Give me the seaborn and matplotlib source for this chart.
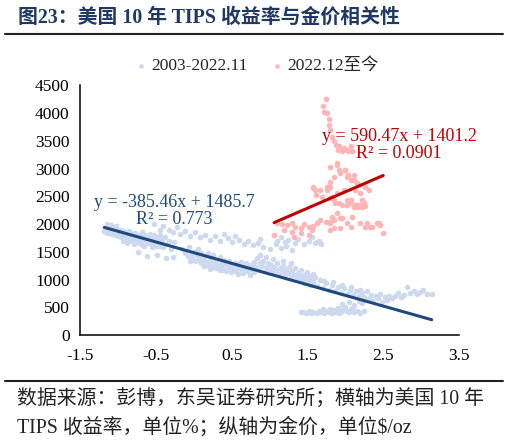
import numpy as np
import pandas as pd
import matplotlib
matplotlib.use('Agg')
import matplotlib.pyplot as plt
import seaborn as sns
from matplotlib.lines import Line2D

# 横轴：美国10年TIPS收益率(%)，纵轴：金价($/oz)，数值为从原图读取的估计
blue_x = [
    -1.18, -1.17, -1.16, -1.15, -1.14, -1.13, -1.12, -1.11, -1.10, -1.09, -1.08, -1.07, -1.06, -1.05,
    -1.04, -1.03, -1.02, -1.01, -1.00, -0.99, -0.98, -0.97, -0.96, -0.95, -0.94, -0.93, -0.92, -0.91,
    -0.90, -0.89, -0.88, -0.87, -0.86, -0.85, -0.84, -0.83, -0.82, -0.81, -0.80, -0.79, -0.78, -0.77,
    -0.76, -0.75, -0.74, -0.73, -0.72, -0.71, -0.70, -0.69, -0.68, -0.67, -0.66, -0.65, -0.64, -0.63,
    -0.62, -0.61, -0.60, -0.59, -0.58, -0.57, -0.56, -0.55, -0.54, -0.53, -0.52, -0.51, -0.50, -0.49,
    -0.48, -0.47, -0.46, -0.45, -0.44, -0.43, -0.42, -0.40, -0.38, -0.36, -0.35, -0.33, -0.30, -0.28,
    -0.26, -1.15, -1.12, -1.07, -1.02, -0.97, -0.93, -0.88, -0.84,
    -0.52, -0.45, -0.40, -0.33, -0.27, -0.22, -0.18, -0.12, -0.05, 0.02, 0.08, 0.15, 0.22, 0.28,
    0.35, 0.40, 0.45, 0.50, 0.55, 0.60, 0.66, 0.72, 0.78, 0.85, 0.92, 1.00, 1.08, 1.15, 1.22, 1.30,
    1.06, 1.10, 1.15, 1.20, 1.25, 1.33, 1.38, 1.45, 1.52, 1.60, 1.65, 1.68, 1.56, 0.88, 1.32, 1.63,
    -0.15, -0.12, -0.10, -0.08, -0.06, -0.04, -0.02, 0.00, 0.02, 0.04, 0.05, 0.07, 0.09, 0.10,
    0.12, 0.14, 0.15, 0.17, 0.19, 0.20, 0.22, 0.24, 0.25, 0.27, 0.29, 0.30, 0.32, 0.34,
    0.35, 0.37, 0.39, 0.40, 0.42, 0.44, 0.45, 0.47, 0.49, 0.50, 0.52, 0.54, 0.55, 0.57,
    0.59, 0.60, 0.62, 0.64, 0.65, 0.67, 0.69, 0.70, 0.72, 0.74, 0.75, 0.77, 0.79,
    0.05, 0.10, 0.18, 0.26, 0.33, 0.41, 0.48, 0.56, 0.63, 0.71, -0.05, 0.13, 0.21, 0.38, 0.46,
    0.80, 0.82, 0.84, 0.86, 0.88, 0.90, 0.92, 0.94, 0.96, 0.98, 1.00, 1.02, 1.04, 1.06,
    1.08, 1.10, 1.12, 1.14, 1.16, 1.18, 1.20, 1.22, 1.24, 1.26, 1.28, 1.30, 1.32, 1.34,
    1.36, 1.38, 1.40, 1.42, 1.44, 1.46, 1.48, 1.50, 1.52, 1.54, 1.56, 1.58, 0.95, 1.05,
    1.18, 0.87, 1.28,
    1.42, 1.46, 1.50, 1.54, 1.58, 1.62, 1.66, 1.70, 1.74, 1.78, 1.82, 1.86, 1.90, 1.94,
    1.98, 2.02, 2.06, 2.10, 2.14, 2.18, 1.60, 1.72, 1.84, 1.96, 2.08, 2.20,
    2.22, 2.25, 2.28, 2.31, 2.34, 2.37, 2.40, 2.43, 2.46, 2.49, 2.52, 2.55, 2.58, 2.62,
    2.66, 2.70, 2.74, 2.78, 2.82, 2.86, 2.90, 2.94, 2.98, 3.02, 3.08, 3.14,
    1.41, 1.44, 1.48, 1.52, 1.55, 1.58, 1.62, 1.65, 1.68, 1.72, 1.75, 1.78, 1.82, 1.85,
    1.88, 1.92, 1.95, 1.98, 2.02, 2.05, 2.08, 2.12, 2.16, 2.20, 2.24, 1.90, 2.00, 2.10,
    1.80, 1.70, 1.95, 2.05, 2.12, 2.18, 2.22,
]
blue_y = [
    1880, 1935, 1860, 1905, 1960, 1840, 1890, 1925, 1870, 1990, 1830, 1905, 1860, 1945,
    1800, 1880, 1840, 1910, 1790, 1860, 1825, 1895, 1760, 1840, 1800, 1870, 1735, 1815,
    1780, 1850, 1710, 1795, 1750, 1880, 1690, 1770, 1820, 1730, 1790, 1650, 1755, 1840,
    1700, 1770, 1500, 1680, 1805, 1720, 1640, 1760, 1850, 1690, 1745, 1610, 1795, 1710,
    1420, 1660, 1770, 1690, 1830, 1635, 1740, 1590, 1700, 1800, 1660, 1720, 1610, 1770,
    1450, 1680, 1740, 1600, 1800, 1650, 1710, 1580, 1760, 1380, 1640, 1700, 1560, 1410,
    1680, 2010, 1960, 1880, 1960, 1780, 1700, 1660, 1840,
    2010, 1890, 1960, 1900, 1850, 1950, 1820, 1880, 1790, 1850, 1760, 1810, 1720, 1780,
    1700, 1830, 1750, 1680, 1780, 1720, 1650, 1700, 1620, 1660, 1590, 1560, 1640, 1570, 1600, 1530,
    1810, 1700, 1760, 1680, 1720, 1660, 1740, 1650, 1690, 1660, 1700, 1640, 1760, 1727, 1775, 1685,
    1560, 1480, 1520, 1420, 1590, 1450, 1380, 1500, 1330, 1440, 1560, 1390, 1300, 1470,
    1350, 1250, 1420, 1320, 1480, 1280, 1370, 1230, 1440, 1300, 1200, 1350, 1270, 1410,
    1180, 1300, 1240, 1360, 1160, 1280, 1220, 1330, 1130, 1260, 1200, 1300, 1150, 1240,
    1100, 1280, 1190, 1250, 1120, 1210, 1300, 1160, 1230, 1090, 1190, 1260, 1140,
    1350, 1290, 1260, 1330, 1240, 1300, 1250, 1180, 1310, 1270, 1330, 1400, 1190, 1180, 1170,
    1320, 1230, 1380, 1180, 1290, 1250, 1340, 1150, 1220, 1300, 1190, 1260, 1120, 1230,
    1170, 1290, 1100, 1210, 1150, 1250, 1080, 1180, 1120, 1220, 1050, 1150, 1090, 1200,
    1020, 1120, 1060, 1170, 990, 1090, 1030, 1130, 960, 1060, 1000, 1100, 1400, 1370,
    1340, 1440, 1290,
    1000, 940, 1020, 900, 960, 880, 1000, 850, 930, 820, 900, 790, 870, 760,
    840, 740, 810, 720, 790, 700, 1040, 980, 950, 900, 860, 820,
    760, 690, 800, 650, 730, 620, 700, 660, 740, 600, 680, 640, 710, 660,
    700, 760, 680, 720, 870, 760, 800, 740, 780, 820, 740, 735,
    420, 410, 395, 430, 405, 415, 400, 440, 410, 395, 430, 420, 405, 450,
    420, 400, 440, 470, 430, 410, 460, 420, 440, 400, 430, 490, 500, 510,
    470, 460, 560, 590, 540, 610, 570,
]

red_x = [
    1.75, 1.71, 1.72, 1.76, 1.78, 1.79, 1.80, 1.82, 1.85, 1.88, 1.91, 1.93, 1.98, 2.02,
    2.07, 2.09, 2.04, 1.90, 1.96,
    1.80, 1.89, 1.91, 1.93, 2.00, 2.02, 2.07, 2.11, 2.15, 2.20, 2.13, 2.24, 2.15, 2.07, 2.02,
    1.58, 1.61, 1.67, 1.69, 1.76, 1.80, 1.89, 1.82, 1.98, 1.85, 1.91, 2.02, 2.11, 2.20, 2.26,
    1.10, 1.17, 1.23, 1.30, 1.34, 1.41, 1.45, 1.52, 1.58, 1.63, 1.67, 1.74, 1.80, 1.85,
    1.93, 2.02, 2.07, 2.20, 2.26, 2.33, 2.42, 2.46, 2.50,
    1.06, 1.19, 1.30, 1.32, 1.41, 1.52, 1.56, 1.80, 1.85, 1.93,
    1.82, 1.89, 1.96, 1.78, 2.09, 2.15, 2.22, 2.28, 2.35, 2.44, 1.60, 1.58, 1.76, 1.80,
    1.85, 1.89, 2.00, 2.04, 2.11, 2.18, 2.26, 2.31, 1.80, 1.87, 1.96, 2.07, 2.13, 2.22,
]
red_y = [
    4254, 4122, 4031, 4001, 3893, 3791, 3700, 3580, 3490, 3430, 3400, 3370, 3370, 3340,
    3400, 3327, 3310, 3340, 3310,
    3039, 3099, 2979, 2918, 2979, 2858, 2798, 2888, 2738, 2557, 2617, 2377, 2317, 2377, 2437,
    2647, 2527, 2617, 2497, 2617, 2678, 2557, 2497, 2617, 2437, 2377, 2347, 2317, 2347, 2329,
    2016, 2004, 1986, 2028, 1956, 1926, 2004, 1956, 1968, 2016, 2076, 2046, 2028, 2076,
    2106, 2016, 1956, 2016, 1956, 1956, 2016, 1986, 1835,
    1805, 1895, 1865, 1775, 1835, 1805, 1895, 1895, 1926, 1926,
    2135, 2196, 2105, 2045, 2135, 2346, 2316, 2015, 1955, 2015, 2617, 2677, 2677, 2768,
    2858, 3068, 2978, 2888, 2797, 2707, 2677, 2617, 2466, 2376, 2346, 2436, 2346, 2436,
]

# 趋势线系数（取自图中公式）
blue_fit = (-385.46, 1485.7)
red_fit = (590.47, 1401.2)
blue_label = 'y = -385.46x + 1485.7\nR² = 0.773'
red_label = 'y = 590.47x + 1401.2\nR² = 0.0901'

x_ticks = [-1.5, -0.5, 0.5, 1.5, 2.5, 3.5]
y_ticks = [0, 500, 1000, 1500, 2000, 2500, 3000, 3500, 4000, 4500]

c_blue_pt = '#cdd9ee'
c_red_pt = '#ffb5b5'
c_blue_ln = '#1f4a7e'
c_red_ln = '#c00000'

sns.set_style('white')
plt.rcParams['font.family'] = ['Liberation Serif', 'Noto Sans CJK SC']
plt.rcParams['axes.unicode_minus'] = False

fig = plt.figure(figsize=(5.1, 4.43), dpi=100)
ax = fig.add_axes([0.157, 0.2438, 0.743, 0.5632])

df_b = pd.DataFrame({'x': blue_x, 'y': blue_y})
df_r = pd.DataFrame({'x': red_x, 'y': red_y})
sns.scatterplot(data=df_b, x='x', y='y', color=c_blue_pt, s=16, linewidth=0, ax=ax,
                label='2003-2022.11', zorder=2)
sns.scatterplot(data=df_r, x='x', y='y', color=c_red_pt, s=16, linewidth=0, ax=ax,
                label='2022.12至今', zorder=3)

# 趋势线
xb = np.array([min(blue_x), max(blue_x)])
xr = np.array([min(red_x), max(red_x)])
ax.plot(xb, blue_fit[0] * xb + blue_fit[1], color=c_blue_ln, lw=2.2, zorder=4)
ax.plot(xr, red_fit[0] * xr + red_fit[1], color=c_red_ln, lw=2.2, zorder=4)

ax.text(-0.26, 2230, blue_label, color=c_blue_ln, fontsize=13, ha='center', va='center',
        multialignment='center', linespacing=1.0, zorder=5)
ax.text(2.71, 3420, red_label, color=c_red_ln, fontsize=13, ha='center', va='center',
        multialignment='center', linespacing=1.0, zorder=5)

ax.set_xlim(-1.5, 3.5)
ax.set_ylim(0, 4500)
ax.set_xticks(x_ticks)
ax.set_xticklabels([f'{v:.1f}' for v in x_ticks])
ax.set_yticks(y_ticks)
ax.set_xlabel('')
ax.set_ylabel('')
ax.tick_params(axis='both', direction='inout', length=7, width=1.1, labelsize=12.5, colors='black')
ax.tick_params(axis='x', pad=6)
ax.tick_params(axis='y', pad=4)
for s in ['top', 'right']:
    ax.spines[s].set_visible(False)
for s in ['left', 'bottom']:
    ax.spines[s].set_color('black')
    ax.spines[s].set_linewidth(1.1)

ax.legend(loc='center', bbox_to_anchor=(0.492, 1 - 66 / 443), bbox_transform=fig.transFigure,
          ncol=2, frameon=False, fontsize=12.5, markerscale=0.8, handletextpad=-0.4,
          columnspacing=0.7)

fig.text(18 / 510, 1 - 18 / 443, '图23：美国 10 年 TIPS 收益率与金价相关性', fontsize=14.3,
         fontweight='bold', color='#1f3864', va='center', ha='left')
fig.add_artist(Line2D([5 / 510, 503 / 510], [1 - 34 / 443] * 2, color='#222222', lw=1.5))
fig.add_artist(Line2D([5 / 510, 503 / 510], [1 - 381 / 443] * 2, color='#222222', lw=1.5))
fig.text(17 / 510, 1 - 399 / 443, '数据来源：彭博，东吴证券研究所；横轴为美国 10 年',
         fontsize=14.3, color='#222222', va='center', ha='left')
fig.text(17 / 510, 1 - 428 / 443, 'TIPS 收益率，单位%；纵轴为金价，单位$/oz',
         fontsize=14.3, color='#222222', va='center', ha='left')

fig.savefig('out.png', dpi=100)
